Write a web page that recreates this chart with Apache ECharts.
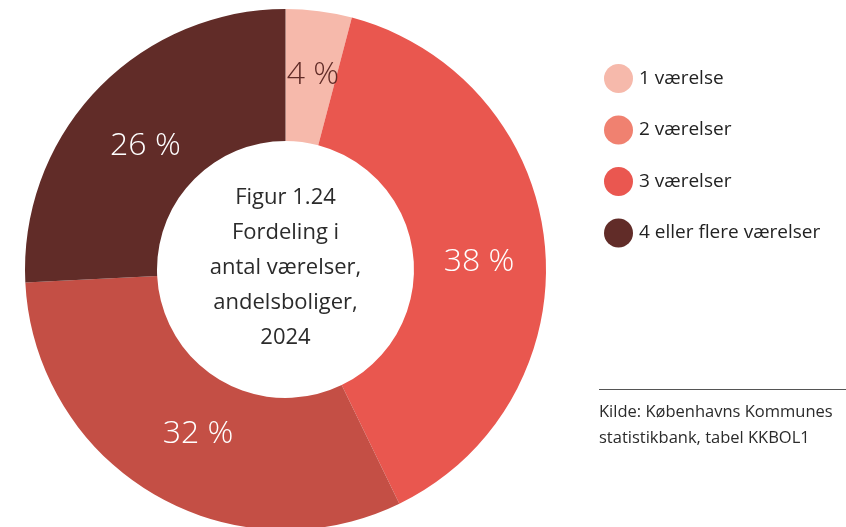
<!DOCTYPE html>
<html>
<head>
<meta charset="utf-8">
<script src="https://cdn.jsdelivr.net/npm/echarts@6/dist/echarts.min.js"></script>
<style>
html,body{margin:0;padding:0;background:#fff;}
#chart{width:846px;height:527px;}
</style>
</head>
<body>
<div id="chart"></div>
<script>
const categories = ['1 værelse', '2 værelser', '3 værelser', '4 eller flere værelser'];
const shares = [4.1, 38.7, 31.4, 25.8];
const shareLabels = ['4 %', '38 %', '32 %', '26 %'];
const centerTitle = ['Figur 1.24', 'Fordeling i', 'antal værelser,', 'andelsboliger,', '2024'];
const sourceLines = ['Kilde: Københavns Kommunes', 'statistikbank, tabel KKBOL1'];

const sliceColors = ['#f6b9ab', '#e9574f', '#c44f45', '#612c28'];
const legendColors = ['#f6b9ab', '#f08170', '#ea5750', '#612c28'];
const labelColors = ['#612c28', '#ffffff', '#ffffff', '#ffffff'];
const labelNudge = [[2, 1], [-3, 12], [13, -6], [3, 12]];

const FONT = '"Open Sans", Lato, sans-serif';
const chart = echarts.init(document.getElementById('chart'), null, {renderer: 'canvas'});

chart.setOption({
  animation: false,
  backgroundColor: '#ffffff',
  legend: {
    orient: 'vertical',
    left: 599,
    top: 59,
    icon: 'circle',
    itemWidth: 29,
    itemHeight: 29,
    itemGap: 22.5,
    selectedMode: false,
    textStyle: {fontFamily: FONT, fontSize: 19, color: '#222222', padding: [0, 0, 0, 1]},
    data: categories.map((c, i) => ({name: c, itemStyle: {color: legendColors[i]}}))
  },
  graphic: [
    {
      type: 'text',
      x: 285.5, y: 268,
      style: {
        text: centerTitle.join('\n'),
        align: 'center',
        verticalAlign: 'middle',
        fontFamily: FONT,
        fontSize: 22,
        lineHeight: 35,
        fill: '#2b2b2b'
      }
    },
    {
      type: 'line',
      shape: {x1: 599, y1: 389.5, x2: 846, y2: 389.5},
      style: {stroke: '#555555', lineWidth: 1}
    },
    {
      type: 'text',
      x: 599, y: 425,
      style: {
        text: sourceLines.join('\n'),
        align: 'left',
        verticalAlign: 'middle',
        fontFamily: FONT,
        fontSize: 16.5,
        lineHeight: 26,
        fill: '#2b2b2b'
      }
    }
  ],
  series: [{
    type: 'pie',
    center: [285.5, 269.5],
    radius: [128.5, 260.5],
    startAngle: 90,
    clockwise: true,
    avoidLabelOverlap: false,
    emphasis: {disabled: true},
    itemStyle: {borderWidth: 0},
    label: {
      show: true,
      position: 'inside',
      fontFamily: FONT,
      fontSize: 32,
      fontWeight: 300,
      formatter: p => shareLabels[p.dataIndex]
    },
    labelLine: {show: false},
    data: categories.map((c, i) => ({
      name: c,
      value: shares[i],
      itemStyle: {color: sliceColors[i]},
      label: {color: labelColors[i], offset: labelNudge[i]}
    }))
  }]
});
</script>
</body>
</html>
